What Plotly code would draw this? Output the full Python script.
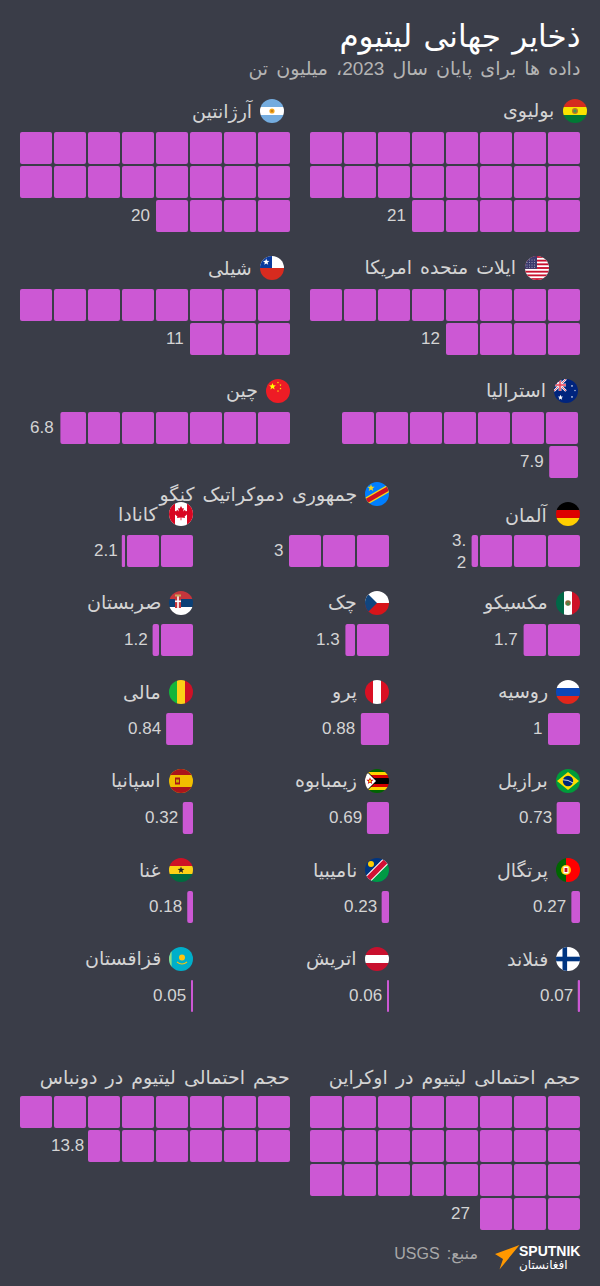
import base64, math
import plotly.graph_objects as go

# ---------- data ----------
COUNTRIES = ["بولیوی", "آرژانتین", "ایلات متحده امریکا", "شیلی", "استرالیا", "چین",
             "آلمان", "جمهوری دموکراتیک کنگو", "کانادا",
             "مکسیکو", "چک", "صربستان",
             "روسیه", "پرو", "مالی",
             "برازیل", "زیمبابوه", "اسپانیا",
             "پرتگال", "نامیبیا", "غنا",
             "فنلاند", "اتریش", "قزاقستان",
             "حجم احتمالی لیتیوم در اوکراین", "حجم احتمالی لیتیوم در دونباس"]
VALUES = [21, 20, 12, 11, 7.9, 6.8,
          3.2, 3, 2.1,
          1.7, 1.3, 1.2,
          1, 0.88, 0.84,
          0.73, 0.69, 0.32,
          0.27, 0.23, 0.18,
          0.07, 0.06, 0.05,
          27, 14]
VALUE_LABELS = ["21", "20", "12", "11", "7.9", "6.8",
                "3.<br>2", "3", "2.1",
                "1.7", "1.3", "1.2",
                "1", "0.88", "0.84",
                "0.73", "0.69", "0.32",
                "0.27", "0.23", "0.18",
                "0.07", "0.06", "0.05",
                "27", "13.8"]
TITLE = "ذخایر جهانی لیتیوم"
SUBTITLE = "داده ها برای پایان سال 2023، میلیون تن"
SOURCE = "منبع: USGS"
BRAND = "SPUTNIK"
BRAND_SUB = "افغانستان"

# ---------- layout of the panels ----------
BG = "#3a3d48"
CELL_COLOR = "#cc58d4"
CELL = 32
PITCH = 34
# right edge, top of first row, cells per row, flag centre x (None = no flag), label y, label gap, value gap
PANELS = [
    (580, 132, 8, 575, 111, 9, 6), (290, 132, 8, 272, 111, 7, 6),
    (580, 289, 8, 537, 268, 9, 6), (290, 289, 8, 272, 268, 8, 6),
    (578, 412, 7, 566, 391, 8, 5), (290, 412, 7, 278, 391, 8, 6),
    (580, 535, 4, 568, 514, 8, 6), (389, 535, 3, 377, 494, 8, 6), (193, 535, 3, 181, 514, 10, 4),
    (580, 624, 3, 568, 603, 8, 6), (389, 624, 3, 377, 603, 8, 5), (193, 624, 3, 181, 603, 8, 5),
    (580, 713, 3, 568, 692, 8, 6), (389, 713, 3, 377, 692, 8, 6), (193, 713, 3, 181, 692, 8, 5),
    (580, 802, 3, 568, 781, 8, 5), (389, 802, 3, 377, 781, 8, 5), (193, 802, 3, 181, 781, 8, 5),
    (580, 891, 3, 568, 870, 8, 5), (389, 891, 3, 377, 870, 8, 5), (193, 891, 3, 181, 870, 8, 5),
    (580, 980, 3, 568, 959, 8, 5), (389, 980, 3, 377, 959, 8, 5), (193, 980, 3, 181, 959, 8, 5),
    (580, 1096, 8, None, 1078, 0, 10), (290, 1096, 8, None, 1078, 0, 4),
]


# ---------- flags ----------
def star(cx, cy, r, fill, rot=0):
    pts = []
    for i in range(10):
        a = math.radians(-90 + rot + i * 36)
        rr = r if i % 2 == 0 else r * 0.42
        pts.append(f"{cx + rr * math.cos(a):.2f},{cy + rr * math.sin(a):.2f}")
    return f'<polygon points="{" ".join(pts)}" fill="{fill}"/>'


def rect(x, y, w, h, c):
    return f'<rect x="{x}" y="{y}" width="{w}" height="{h}" fill="{c}"/>'


def circ(x, y, r, c):
    return f'<circle cx="{x}" cy="{y}" r="{r}" fill="{c}"/>'


def poly(p, c):
    return f'<polygon points="{p}" fill="{c}"/>'


def hbands(*cs):
    h = 24 / len(cs)
    return "".join(rect(0, i * h, 24, h + 0.1, c) for i, c in enumerate(cs))


def vbands(*cs):
    w = 24 / len(cs)
    return "".join(rect(i * w, 0, w + 0.1, 24, c) for i, c in enumerate(cs))


usa = rect(0, 0, 24, 24, "#ffffff") + "".join(rect(0, i * 24 / 13, 24, 24 / 13, "#c8102e") for i in range(0, 13, 2)) \
    + rect(0, 0, 12, 12.9, "#3c3b6e") + "".join(circ(x, y, 0.45, "#fff") for x in (2, 4.5, 7, 9.5) for y in (4, 6.5, 9, 11.2))
union = rect(0, 0, 12, 12, "#00247d") \
    + '<path d="M0 0L12 12M12 0L0 12" stroke="#fff" stroke-width="2.2"/>' \
    + '<path d="M0 0L12 12M12 0L0 12" stroke="#e8485c" stroke-width="0.8"/>' \
    + rect(4.6, 0, 2.8, 12, "#fff") + rect(0, 4.6, 12, 2.8, "#fff") \
    + rect(5.2, 0, 1.6, 12, "#e8485c") + rect(0, 5.2, 12, 1.6, "#e8485c")
maple = "12,4 13.3,6.6 14.8,5.9 14.2,9.6 16,7.8 16.6,9.2 18.4,8.9 17.8,11.3 18.8,11.8 15.6,14.6 16,16 12.4,15.6 12.4,18.2 11.6,18.2 11.6,15.6 8,16 8.4,14.6 5.2,11.8 6.2,11.3 5.6,8.9 7.4,9.2 8,7.8 9.8,9.6 9.2,5.9 10.7,6.6"

FLAGS = [
    hbands("#d52b1e", "#f9e300", "#007934") + circ(12, 12, 3, "#b5762a") + circ(12, 12, 1.6, "#3f9a56"),
    hbands("#74acdf", "#ffffff", "#74acdf") + circ(12, 12, 2.6, "#f6a821") + circ(12, 12, 1.3, "#c87f14"),
    usa,
    rect(0, 0, 24, 12, "#ffffff") + rect(0, 12, 24, 12, "#d72b1f") + rect(0, 0, 12, 12, "#0a3a9c") + star(6.2, 6, 3.4, "#fff"),
    rect(0, 0, 24, 24, "#00247d") + union + star(6.5, 18.5, 2.8, "#fff") + star(18, 7, 1.2, "#fff") + star(21, 11.5, 1, "#fff") + star(18, 18, 1.2, "#fff"),
    rect(0, 0, 24, 24, "#ee1c25") + star(6.5, 7.5, 3.6, "#ffff00") + star(12, 3.5, 1.1, "#ffff00") + star(14.5, 6, 1.1, "#ffff00") + star(14.5, 9.5, 1.1, "#ffff00") + star(12, 12, 1.1, "#ffff00"),
    hbands("#000000", "#dd0000", "#ffce00"),
    rect(0, 0, 24, 24, "#007fff") + '<path d="M-2 21L26 5" stroke="#f7d618" stroke-width="7"/><path d="M-2 21L26 5" stroke="#ce1021" stroke-width="4.6"/>' + star(6, 6, 3.8, "#f7d618"),
    rect(0, 0, 24, 24, "#ffffff") + rect(0, 0, 6, 24, "#d80621") + rect(18, 0, 6, 24, "#d80621") + poly(maple, "#d80621"),
    vbands("#006847", "#ffffff", "#ce1126") + circ(12, 12, 2.8, "#8c6a3a") + circ(12, 13, 1.4, "#3f8a4e"),
    rect(0, 0, 24, 12, "#ffffff") + rect(0, 12, 24, 12, "#d7141a") + poly("0,0 12,12 0,24", "#11457e"),
    hbands("#c6363c", "#0c4076", "#ffffff") + rect(6, 5, 6, 12, "#c6363c") + rect(8.2, 5, 1.6, 12, "#ffffff") + rect(6, 3.5, 6, 2, "#c9a65a") + rect(6, 9.5, 6, 1.6, "#ffffff"),
    hbands("#ffffff", "#0c47b7", "#e1261c"),
    vbands("#d91023", "#ffffff", "#d91023"),
    vbands("#14b53a", "#fcd116", "#ce1126"),
    rect(0, 0, 24, 24, "#009b3a") + poly("12,3 23,12 12,21 1,12", "#fedf00") + circ(12, 12, 5.2, "#002776") + '<path d="M7 10.8Q12 10.5 17 14" stroke="#fff" stroke-width="0.8" fill="none"/>',
    hbands("#006400", "#ffd200", "#d40000", "#000000", "#000000", "#d40000", "#ffd200", "#006400") + poly("0,0 12,12 0,24", "#000") + poly("0,1 11,12 0,23", "#fff") + star(5, 12, 3.8, "#d40000") + circ(5, 12, 1.2, "#ffd200"),
    rect(0, 0, 24, 24, "#f1bf00") + rect(0, 0, 24, 6, "#aa151b") + rect(0, 18, 24, 6, "#aa151b") + rect(6, 8.5, 5, 7, "#ad1519") + rect(7, 10.5, 3, 3, "#c8b100"),
    rect(0, 0, 10, 24, "#006600") + rect(10, 0, 14, 24, "#ff0000") + circ(10, 12, 5, "#ffcc00") + rect(7.5, 8.5, 5, 7, "#ffffff") + rect(8.6, 10, 2.8, 4, "#ce1126"),
    rect(0, 0, 24, 24, "#003580") + poly("24,4 24,24 2,24", "#009a44") + '<path d="M0 24L24 0" stroke="#fff" stroke-width="7.4"/><path d="M0 24L24 0" stroke="#d21034" stroke-width="5.4"/>' + circ(6, 6, 3, "#ffce00"),
    hbands("#ce1126", "#fcd116", "#006b3f") + star(12, 12, 3.6, "#222222"),
    rect(0, 0, 24, 24, "#00afca") + rect(0, 0, 2.6, 24, "#8fdc8a") + circ(13, 10.5, 3, "#fec50c") + '<path d="M8 15Q13 19 18 15" stroke="#fec50c" stroke-width="1.1" fill="none"/>',
    rect(0, 0, 24, 24, "#ffffff") + rect(6.5, 0, 4.6, 24, "#003580") + rect(0, 9.7, 24, 4.6, "#003580"),
    hbands("#c8102e", "#ffffff", "#c8102e"),
]
# order of FLAGS above follows COUNTRIES except the last rows
FLAG_ORDER = [0, 1, 2, 3, 4, 5, 6, 7, 8, 9, 10, 11, 12, 13, 14, 15, 16, 17, 18, 19, 20, 22, 23, 21]


def flag_uri(body):
    svg = ('<svg xmlns="http://www.w3.org/2000/svg" width="96" height="96" viewBox="0 0 24 24">'
           '<defs><clipPath id="c"><circle cx="12" cy="12" r="12"/></clipPath></defs>'
           f'<g clip-path="url(#c)">{body}</g></svg>')
    return "data:image/svg+xml;base64," + base64.b64encode(svg.encode()).decode()


# ---------- figure ----------
FONT = "Liberation Sans, DejaVu Sans, sans-serif"
fig = go.Figure()
annotations = []
images = []


def note(x, y, text, size, color, anchor="right", weight=None):
    f = dict(family=FONT, size=size, color=color)
    if weight:
        f["weight"] = weight
    annotations.append(dict(x=x, y=y, xref="x", yref="y", text=text, showarrow=False,
                            xanchor=anchor, yanchor="middle", align="right", font=f,
                            borderpad=0, borderwidth=0))


for i, (name, value, label, panel) in enumerate(zip(COUNTRIES, VALUES, VALUE_LABELS, PANELS)):
    right, top, per_row, flag_x, label_y, label_gap, value_gap = panel
    whole = math.floor(value)
    frac = value - whole
    widths, bases, ys = [], [], []
    n = whole + (1 if frac > 1e-9 else 0)
    for k in range(n):
        col, row = k % per_row, k // per_row
        w = CELL if k < whole else frac * CELL
        slot_right = right - col * PITCH
        widths.append(w)
        bases.append(slot_right - w)
        ys.append(top + row * PITCH + CELL / 2)
    fig.add_trace(go.Bar(x=widths, y=ys, base=bases, width=CELL, orientation="h", name=name,
                         marker=dict(color=CELL_COLOR, line_width=0, cornerradius=2),
                         hoverinfo="skip", showlegend=False))
    # value label left of the last cell
    note(bases[-1] - value_gap, ys[-1] + (-1 if "<br>" not in label else 0), label, 17, "#d4d4d4")
    # country label and flag
    if flag_x is not None:
        images.append(dict(source=flag_uri(FLAGS[FLAG_ORDER[i]]), xref="x", yref="y", x=flag_x - 12, y=label_y - 12,
                           sizex=24, sizey=24, xanchor="left", yanchor="top", sizing="stretch", layer="above"))
        note(flag_x - 12 - label_gap, label_y, name, 19, "#d4d4d4")
    else:
        note(right, label_y, name, 19, "#d4d4d4")

note(580, 37, TITLE, 31, "#ffffff")
note(580, 69, "\u202b" + SUBTITLE + "\u202c", 19, "#b4b4b4")
note(478, 1254, "\u202b" + SOURCE + "\u202c", 16, "#a8a8a8")
note(519, 1251, BRAND, 14, "#ffffff", anchor="left", weight="bold")
note(519, 1265, BRAND_SUB, 12, "#ffffff", anchor="left")

shapes = [dict(type="path", xref="x", yref="y", layer="above", line_width=0, fillcolor="#ff9800",
               path="M 519.5 1245 L 495 1254 L 503 1259 L 499.5 1269.5 Z")]

fig.update_layout(
    width=600, height=1286, margin=dict(l=0, r=0, t=0, b=0),
    paper_bgcolor=BG, plot_bgcolor=BG, barmode="overlay", showlegend=False,
    xaxis=dict(range=[0, 600], visible=False, fixedrange=True),
    yaxis=dict(range=[1286, 0], visible=False, fixedrange=True),
    annotations=annotations, images=images, shapes=shapes,
)
POST = """
document.body.style.margin='0';
document.body.style.overflow='hidden';
document.body.style.background='%s';
var s=document.createElement('style');
s.textContent='.annotation-text{word-spacing:2.8px}';
document.head.appendChild(s);
""" % BG
fig.write_html("out.html", config=dict(displayModeBar=False), post_script=POST)
